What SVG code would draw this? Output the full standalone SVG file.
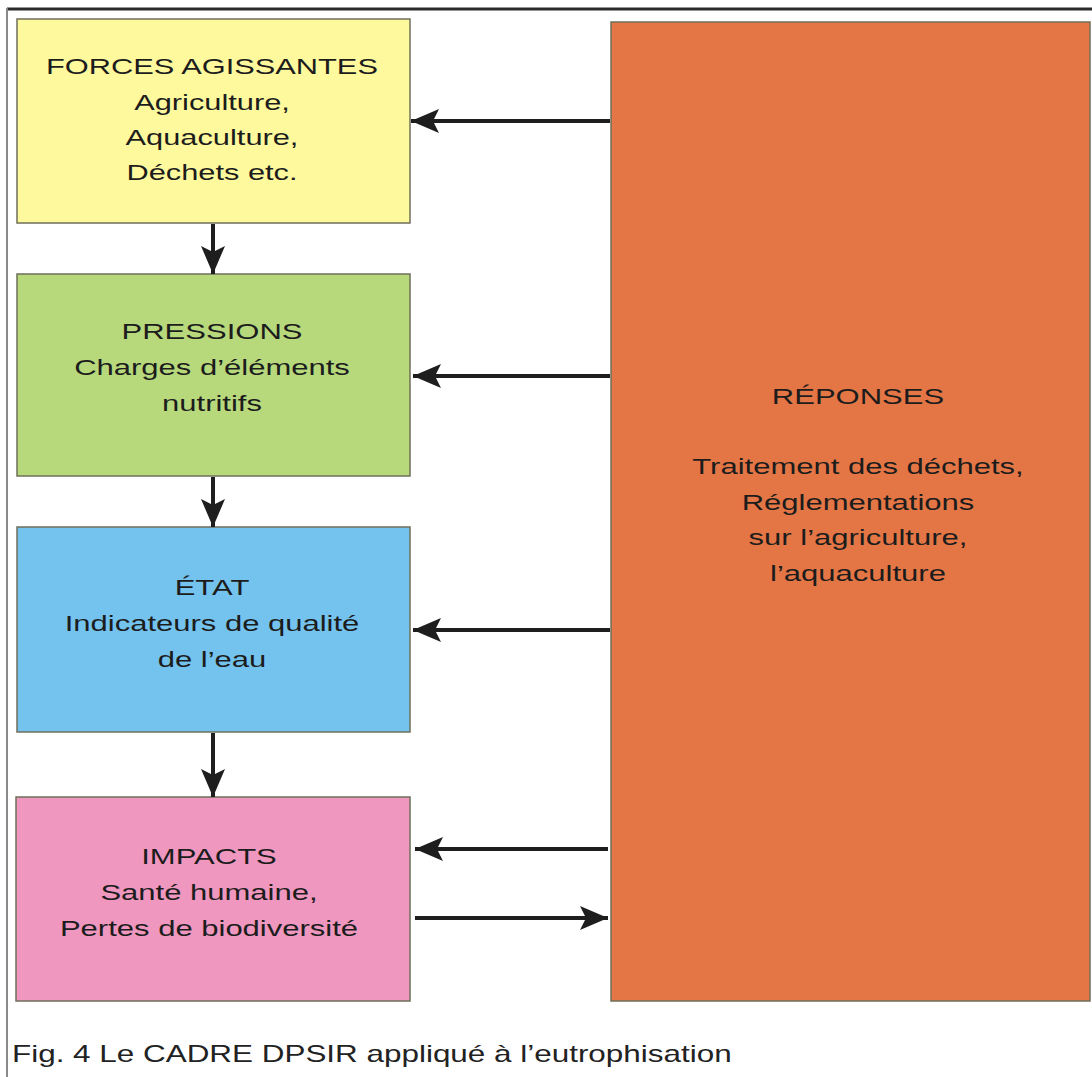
<svg xmlns="http://www.w3.org/2000/svg" width="1092" height="1077" viewBox="0 0 1092 1077">
<style>
.box{stroke:#6f6f5a;stroke-width:1.5}
.t{font-family:"Liberation Sans",Arial,sans-serif;font-size:22px;fill:#1c1c1c;text-anchor:middle}
.cap{font-family:"Liberation Sans",Arial,sans-serif;font-size:24px;fill:#222222}
.c{stroke:#1e1e1e;stroke-width:4;fill:none}
</style>
<defs>
<marker id="ah" markerUnits="userSpaceOnUse" markerWidth="30" markerHeight="26" refX="28" refY="12" orient="auto">
<path d="M0,0 L28,12 L0,24 L6,12 Z" fill="#1e1e1e"/>
</marker>
</defs>
<rect width="1092" height="1077" fill="#ffffff"/>
<line x1="7" y1="9" x2="1092" y2="9" stroke="#2b2b2b" stroke-width="3"/>
<line x1="7" y1="8" x2="7" y2="1077" stroke="#8a8a8a" stroke-width="2"/>

<g id="forces">
<rect class="box" x="17" y="19" width="393" height="204" fill="#fef99c"/>
<g transform="translate(212 0) scale(1.4 1)">
<text class="t" x="0" y="74">FORCES AGISSANTES</text>
<text class="t" x="0" y="110">Agriculture,</text>
<text class="t" x="0" y="145">Aquaculture,</text>
<text class="t" x="0" y="180">Déchets etc.</text>
</g>
</g>

<g id="pressions">
<rect class="box" x="17" y="274" width="393" height="202" fill="#b7d97c"/>
<g transform="translate(212 0) scale(1.41 1)">
<text class="t" x="0" y="339">PRESSIONS</text>
<text class="t" x="0" y="375">Charges d’éléments</text>
<text class="t" x="0" y="411">nutritifs</text>
</g>
</g>

<g id="etat">
<rect class="box" x="17" y="527" width="393" height="205" fill="#74c3ee"/>
<g transform="translate(212 0) scale(1.41 1)">
<text class="t" x="0" y="595">ÉTAT</text>
<text class="t" x="0" y="631">Indicateurs de qualité</text>
<text class="t" x="0" y="667">de l’eau</text>
</g>
</g>

<g id="impacts">
<rect class="box" x="16" y="797" width="394" height="204" fill="#ef97bf"/>
<g transform="translate(209 0) scale(1.41 1)">
<text class="t" x="0" y="864">IMPACTS</text>
<text class="t" x="0" y="900">Santé humaine,</text>
<text class="t" x="0" y="936">Pertes de biodiversité</text>
</g>
</g>

<g id="reponses">
<rect class="box" x="611" y="22" width="479" height="979" fill="#e47646"/>
<g transform="translate(858 0) scale(1.41 1)">
<text class="t" x="0" y="404">RÉPONSES</text>
<text class="t" x="0" y="474">Traitement des déchets,</text>
<text class="t" x="0" y="510">Réglementations</text>
<text class="t" x="0" y="545">sur l’agriculture,</text>
<text class="t" x="0" y="581">l’aquaculture</text>
</g>
</g>

<g id="connectors">
<line class="c" x1="213" y1="224" x2="213" y2="274" marker-end="url(#ah)"/>
<line class="c" x1="213" y1="477" x2="213" y2="527" marker-end="url(#ah)"/>
<line class="c" x1="213" y1="733" x2="213" y2="797" marker-end="url(#ah)"/>
<line class="c" x1="610" y1="121" x2="411" y2="121" marker-end="url(#ah)"/>
<line class="c" x1="610" y1="376" x2="413" y2="376" marker-end="url(#ah)"/>
<line class="c" x1="610" y1="630" x2="413" y2="630" marker-end="url(#ah)"/>
<line class="c" x1="608" y1="849" x2="415" y2="849" marker-end="url(#ah)"/>
<line class="c" x1="415" y1="918" x2="608" y2="918" marker-end="url(#ah)"/>
</g>

<g transform="translate(12 0) scale(1.31 1)">
<text class="cap" x="0" y="1062">Fig. 4 Le CADRE DPSIR appliqué à l’eutrophisation</text>
</g>
</svg>
